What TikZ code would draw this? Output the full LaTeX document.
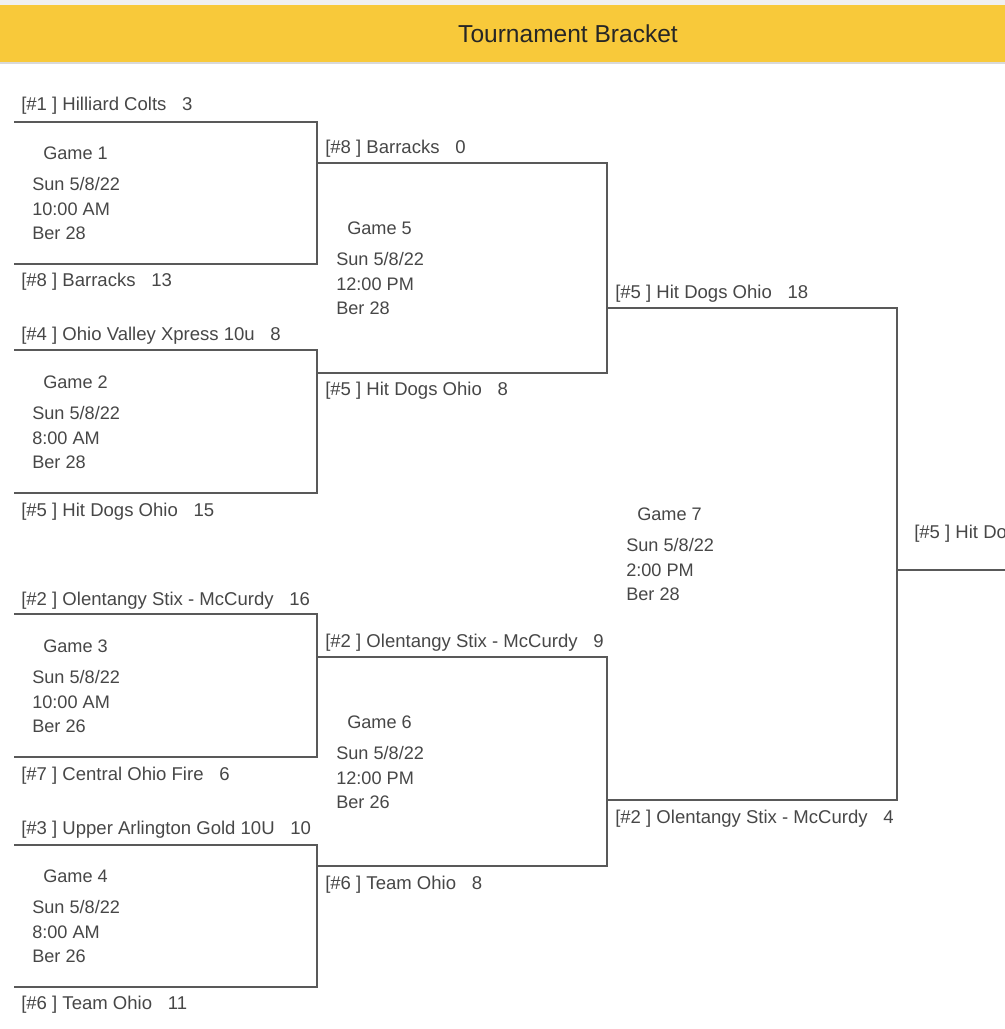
\documentclass[tikz,border=0pt]{standalone}
\usepackage{fontspec}
\setmainfont{Liberation Sans}
\newcommand{\scgap}{\hspace{0.85em}}
\begin{document}
\begin{tikzpicture}[x=0.75pt,y=-0.75pt,
  br/.style={draw=black!65,line width=2.2pt},
  team/.style={anchor=west,inner sep=0pt,yshift=-1.2pt,text=black!72,font=\fontsize{13.9}{15}\selectfont},
  info/.style={anchor=west,inner sep=0pt,yshift=-0.8pt,text=black!72,font=\fontsize{13.6}{15}\selectfont}]
\useasboundingbox (0,0) rectangle (1005,1029);
\clip (0,0) rectangle (1005,1029);
\fill[white] (0,0) rectangle (1005,1029);
\fill[black!6] (0,0) rectangle (1005,6);
\fill[black!15] (0,61) rectangle (1005,64);
\fill[fill={rgb,255:red,248;green,201;blue,58}] (0,5) rectangle (1005,62);
\node[inner sep=0pt,text=black!85,font=\fontsize{18.4}{20}\selectfont] (title) at (568,34) {Tournament Bracket};
% coordinates (bracket corners)
\foreach \n/\x/\y in {g1t/14/122,g1a/317/122,g1b/317/264,g1e/14/264,
  g2t/14/350,g2a/317/350,g2b/317/493,g2e/14/493,
  g3t/14/614,g3a/317/614,g3b/317/757,g3e/14/757,
  g4t/14/845,g4a/317/845,g4b/317/987,g4e/14/987,
  g5t/317/163,g5a/607/163,g5b/607/373,g5e/317/373,
  g6t/317/657,g6a/607/657,g6b/607/866,g6e/317/866,
  g7t/607/308,g7a/897/308,g7b/897/800,g7e/607/800,
  fs/897/570,fe/1010/570}
  \coordinate (\n) at (\x,\y);
\foreach \g in {g1,g2,g3,g4,g5,g6,g7}
  \draw[br,line join=miter] (\g t) -- (\g a) -- (\g b) -- (\g e);
\draw[br] (fs) -- (fe);
% team labels
\node[team] (t1) at (21,104) {[\#1 ] Hilliard Colts\scgap 3};
\node[team] (t8) at (21,280) {[\#8 ] Barracks\scgap 13};
\node[team] (t4) at (21,334) {[\#4 ] Ohio Valley Xpress 10u\scgap 8};
\node[team] (t5) at (21,510) {[\#5 ] Hit Dogs Ohio\scgap 15};
\node[team] (t2) at (21,599) {[\#2 ] Olentangy Stix - McCurdy\scgap 16};
\node[team] (t7) at (21,774) {[\#7 ] Central Ohio Fire\scgap 6};
\node[team] (t3) at (21,828) {[\#3 ] Upper Arlington Gold 10U\scgap 10};
\node[team] (t6) at (21,1003) {[\#6 ] Team Ohio\scgap 11};
\node[team] (w1) at (325,147) {[\#8 ] Barracks\scgap 0};
\node[team] (w2) at (325,389) {[\#5 ] Hit Dogs Ohio\scgap 8};
\node[team] (w3) at (325,641) {[\#2 ] Olentangy Stix - McCurdy\scgap 9};
\node[team] (w4) at (325,883) {[\#6 ] Team Ohio\scgap 8};
\node[team] (w5) at (615,292) {[\#5 ] Hit Dogs Ohio\scgap 18};
\node[team] (w6) at (615,817) {[\#2 ] Olentangy Stix - McCurdy\scgap 4};
\node[team] (w7) at (914,532) {[\#5 ] Hit Dogs Ohio};
% game info
\foreach \g/\x/\y/\t/\l in {1/32/122/10:00 AM/Ber 28, 2/32/351/8:00 AM/Ber 28,
  3/32/615/10:00 AM/Ber 26, 4/32/845/8:00 AM/Ber 26,
  5/336/197/12:00 PM/Ber 28, 6/336/691/12:00 PM/Ber 26,
  7/626/483/2:00 PM/Ber 28}{
  \node[info] (gn\g) at (\x+11,\y+30) {Game \g};
  \node[info] (gd\g) at (\x,\y+61) {Sun 5/8/22};
  \node[info] (gt\g) at (\x,\y+86) {\t};
  \node[info] (gl\g) at (\x,\y+110) {\l};
}
\end{tikzpicture}
\end{document}
